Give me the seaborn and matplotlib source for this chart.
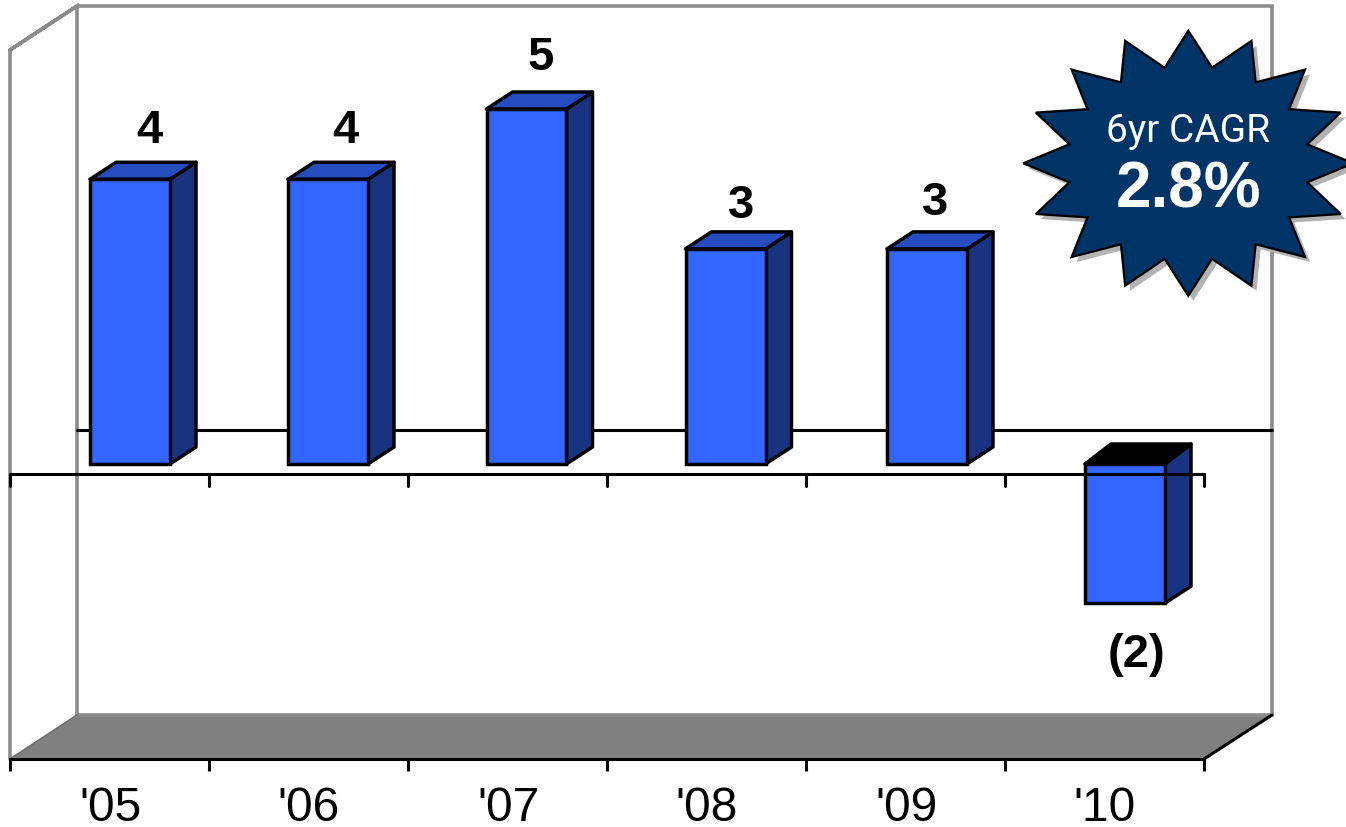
import numpy as np
import pandas as pd
import matplotlib
matplotlib.use("Agg")
import matplotlib.pyplot as plt
from matplotlib.patches import Polygon
from matplotlib.transforms import Affine2D
import seaborn as sns

# ---- data ----
years = ["'05", "'06", "'07", "'08", "'09", "'10"]
values = [4.01, 4.01, 5.0, 3.03, 3.03, -1.96]
value_labels = ["4", "4", "5", "3", "3", "(2)"]
badge_title = "6yr CAGR"
badge_value = "2.8%"

# ---- style ----
W, H = 1346, 827
FRONT, TOP, SIDE = "#3366FF", "#264DBF", "#1A3380"
WALL, FLOOR, NAVY = "#8C8C8C", "#808080", "#003366"
LW = 2.2
BAR_LW = 2.5
sns.set_theme(style="white")
plt.rcParams["font.family"] = ["Liberation Sans", "DejaVu Sans"]

fig = plt.figure(figsize=(W / 100, H / 100), dpi=100, facecolor="white")
ax = fig.add_axes([0, 0, 1, 1])

X0, XS, Y0, YS = 129.3, 199.1, 464.0, 71.0   # pixel position of slot 0 / value 0
to_x = lambda px: (px - X0) / XS
to_y = lambda py: (Y0 - py) / YS

# the bars are not quite evenly spaced in the picture
bar_centres_px = np.array([130, 328, 526.5, 725.5, 927, 1125])
df = pd.DataFrame({"slot": to_x(bar_centres_px), "value": values})
sns.barplot(data=df, x="slot", y="value", native_scale=True, color=FRONT, saturation=1,
            width=80 / 198, edgecolor="black", linewidth=BAR_LW, ax=ax, zorder=3, errorbar=None)
ax.set_xlim(to_x(0), to_x(W))
ax.set_ylim(to_y(H), to_y(0))
ax.set_xlabel("")
ax.set_ylabel("")

px = Affine2D().scale(1 / W, -1 / H).translate(0, 1) + fig.transFigure

# chart box chrome, in picture pixels
ax.add_patch(Polygon([(10, 759), (77, 715), (1272, 715), (1204, 759)], closed=True,
                     transform=px, fc=FLOOR, ec="none", zorder=0.5))
ax.plot([10, 10, 77, 1272, 1272, 77, 77, 10], [759, 50, 6, 6, 715, 715, 6, 50],
        transform=px, color=WALL, lw=2.6, zorder=0.6, solid_joinstyle="miter")
ax.plot([10, 77], [759, 715], transform=px, color="#707070", lw=1.2, zorder=0.7)
ax.plot([1204, 1272], [759, 715], transform=px, color="black", lw=LW, zorder=0.8)
ax.plot([77, 1272], [430, 430], transform=px, color="black", lw=LW, zorder=0.8)

# depth faces of every bar, taken from the bars themselves
bars = list(ax.patches)
dx, dy = 26 / XS, 17 / YS
for bar, value in zip(bars, values):
    x0, x1 = bar.get_x(), bar.get_x() + bar.get_width()
    top = max(0, value)
    low = min(0, value)
    lift = dy if value >= 0 else 20 / YS
    ax.add_patch(Polygon([(x1, top), (x1 + dx, top + lift), (x1 + dx, low + dy), (x1, low)],
                         closed=True, fc=SIDE, ec="black", lw=BAR_LW, zorder=2.8, joinstyle="round"))
    ax.add_patch(Polygon([(x0, top), (x0 + dx, top + lift), (x1 + dx, top + lift), (x1, top)],
                         closed=True, fc=TOP if value >= 0 else "black", ec="black", lw=BAR_LW,
                         zorder=2.8, joinstyle="round"))

# value labels (nudges of the text centre relative to the bar end, in pixels)
label_dx = [19, 17, 14.5, 15.5, 8, 11]
label_dy = [-48, -48, -51, -43, -46, 52]
for bar, value, text, ox, oy in zip(bars, values, value_labels, label_dx, label_dy):
    cx = bar.get_x() + bar.get_width() / 2
    ax.annotate(text, (cx, value), xytext=(ox * 0.72, -oy * 0.72), textcoords="offset points",
                ha="center", va="center", fontsize=34, fontweight="bold", color="black", zorder=6)

# real x axis along the front of the floor
tick_px = 10 + 199 * np.arange(7)
for name in ("left", "right", "top"):
    ax.spines[name].set_visible(False)
sp = ax.spines["bottom"]
sp.set_visible(True)
sp.set_position(("data", to_y(759)))
sp.set_bounds(to_x(tick_px[0]), to_x(tick_px[-1]))
sp.set_color("black")
sp.set_linewidth(LW)
ax.set_yticks([])
ax.set_xticks(to_x(tick_px), labels=[""] * 7)
ax.set_xticks(to_x(tick_px[:-1] + 100), labels=years, minor=True)
ax.tick_params(axis="x", which="major", length=8.6, width=LW, color="black", direction="out", bottom=True)
ax.tick_params(axis="x", which="minor", length=0, pad=19.5, labelsize=34.5, labelcolor="black")

# zero-level axis, drawn over the bars
ax.plot([10, 1204], [474, 474], transform=px, color="black", lw=LW, zorder=5)
for t in tick_px:
    ax.plot([t, t], [474, 486], transform=px, color="black", lw=LW, zorder=5,
            solid_capstyle="round")

# starburst badge
cx, cy, rx, ry, k = 1188.3, 163.3, 165, 132.5, 0.735
ang = np.deg2rad(np.arange(32) * 11.25)
rad = np.where(np.arange(32) % 2 == 0, 1.0, k)
star = np.column_stack([cx + rx * rad * np.sin(ang), cy - ry * rad * np.cos(ang)])
ax.add_patch(Polygon(star + [5, 5], closed=True, transform=px, fc="#B2B2B2", ec="none", zorder=7))
ax.add_patch(Polygon(star, closed=True, transform=px, fc=NAVY, ec="black", lw=1.6, zorder=8,
                     joinstyle="miter"))
ax.text(1188, 131, badge_title, transform=px, ha="center", va="center", color="white", fontsize=28,
        family=["Roboto", "Liberation Sans"], zorder=9)
ax.text(1188, 190, badge_value, transform=px, ha="center", va="center", color="white", fontsize=46,
        fontweight="bold", zorder=9)

fig.savefig("out.png", dpi=100, facecolor="white")
